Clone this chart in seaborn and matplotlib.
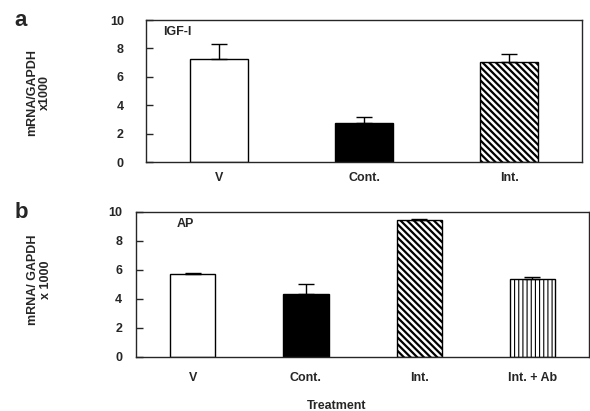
import numpy as np
import pandas as pd
import seaborn as sns
import matplotlib.pyplot as plt

sns.set_style("ticks")
plt.rcParams["font.family"] = ["Liberation Sans", "DejaVu Sans"]
plt.rcParams["hatch.linewidth"] = 1.6

# panel a - IGF-I
cats_a = ["V", "Cont.", "Int."]
vals_a = [7.25, 2.75, 7.05]
errs_a = [1.05, 0.45, 0.55]

# panel b - AP
cats_b = ["V", "Cont.", "Int.", "Int. + Ab"]
vals_b = [5.75, 4.35, 9.45, 5.4]
errs_b = [0.05, 0.65, 0.05, 0.15]

fills = {"V": "white", "Cont.": "black", "Int.": "white", "Int. + Ab": "white"}
hatches = {"V": "", "Cont.": "", "Int.": "\\\\\\\\\\", "Int. + Ab": "||||"}

fig = plt.figure(figsize=(5.9, 4.11), dpi=100)
ax_a = fig.add_axes([0.2475, 0.6058, 0.739, 0.3455])
ax_b = fig.add_axes([0.2305, 0.1314, 0.768, 0.3528])


def draw(ax, cats, vals, errs, name, ylab, tickpad):
    df = pd.DataFrame({"Treatment": cats, "val": vals})
    sns.barplot(data=df, x="Treatment", y="val", hue="Treatment",
                palette=[fills[c] for c in cats], edgecolor="black",
                linewidth=1, width=0.4, legend=False, ax=ax)
    for p, c in zip(ax.patches, cats):
        p.set_hatch(hatches[c])
        if c == "Int. + Ab" and hasattr(p, "set_hatch_linewidth"):
            p.set_hatch_linewidth(0.8)
    ax.errorbar(np.arange(len(cats)), vals, yerr=[np.zeros(len(errs)), errs],
                fmt="none", ecolor="black", elinewidth=1, capsize=6, capthick=1)
    ax.set_ylim(0, 10)
    ax.set_xlim(-0.5, len(cats) - 0.5)
    ax.set_yticks([0, 2, 4, 6, 8, 10])
    for s in ax.spines.values():
        s.set_visible(True)
        s.set_linewidth(1)
    ax.tick_params(axis="y", direction="in", length=5, width=1,
                   labelsize=9, pad=tickpad)
    ax.tick_params(axis="x", length=0, labelsize=9)
    for t in ax.get_xticklabels() + ax.get_yticklabels():
        t.set_fontweight("bold")
    ax.set_xlabel("")
    ax.set_ylabel(ylab, fontsize=9, fontweight="bold", linespacing=1.1)
    ax.text(0.04 if len(cats) == 3 else 0.09, 0.915, name, transform=ax.transAxes,
            fontsize=9, fontweight="bold", va="center")


draw(ax_a, cats_a, vals_a, errs_a, "IGF-I", "mRNA/GAPDH\nx1000", 16)
ax_a.tick_params(axis="x", pad=7)
ax_a.yaxis.set_label_coords(-0.218, 0.49)

draw(ax_b, cats_b, vals_b, errs_b, "AP", "mRNA/ GAPDH\nx 1000", 10)
ax_b.tick_params(axis="x", pad=11)
ax_b.yaxis.set_label_coords(-0.185, 0.53)

fig.text(0.025, 0.95, "a", fontsize=16, fontweight="bold", va="center")
fig.text(0.025, 0.482, "b", fontsize=16, fontweight="bold", va="center")
fig.text(0.571, 0.005, "Treatment", fontsize=9, fontweight="bold", ha="center")

fig.savefig("out.png", dpi=100)
